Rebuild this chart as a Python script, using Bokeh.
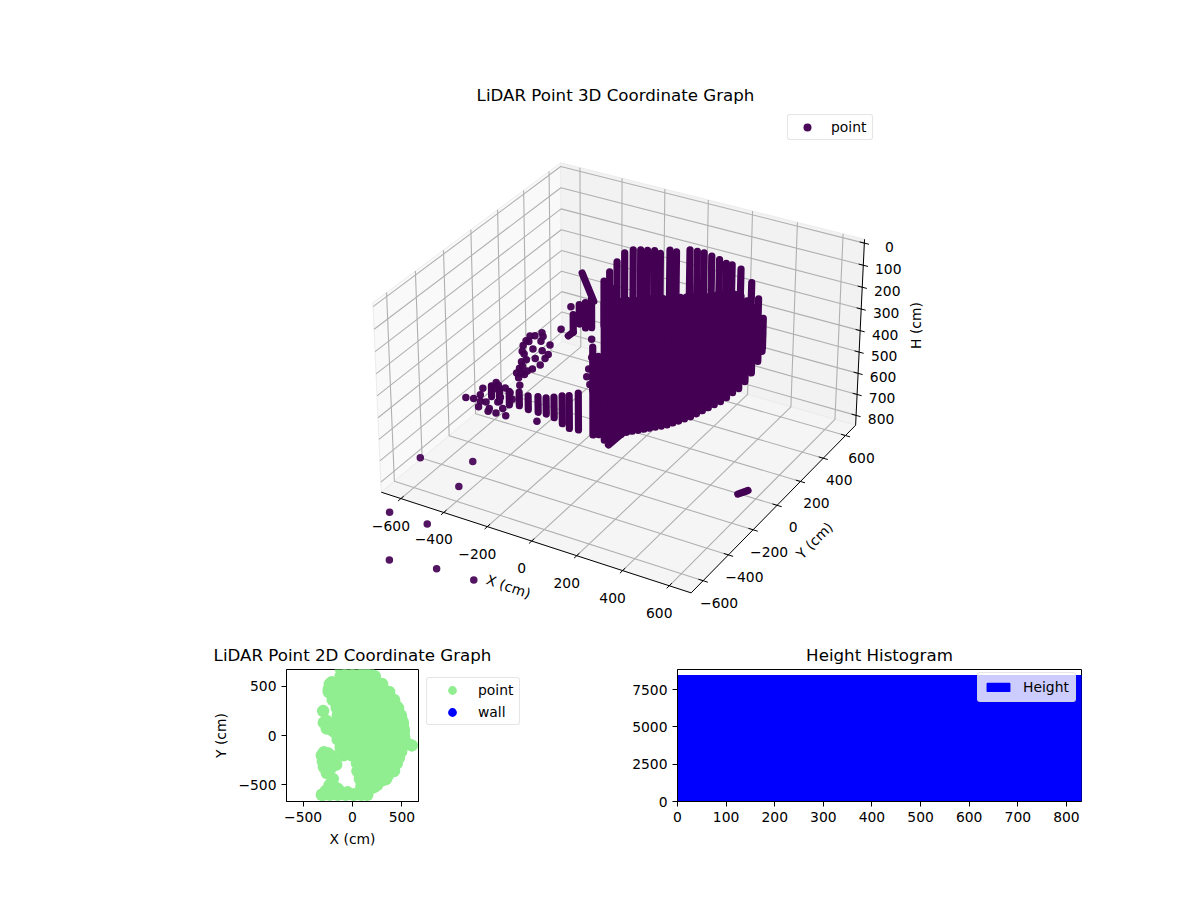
import numpy as np
from bokeh.plotting import figure
from bokeh.layouts import column, row
from bokeh.models import Range1d, Label, Legend, LegendItem, FixedTicker
from bokeh.core.properties import value
from bokeh.embed import file_html
from bokeh.resources import INLINE

FONT = "DejaVu Sans"
PURPLE = "#440154"

# ---------- values ----------
tick_xy = [-600, -400, -200, 0, 200, 400, 600]
tick_h = [0, 100, 200, 300, 400, 500, 600, 700, 800]

# scan ribs on the far wall (x, y, first and last height)
far_x = [-327, -312, -289, -262, -231, -202, -176, -146, -122, -81, -51, 13, 49, 85, 125, 168, 206, 240, 295, 369, 426, 474]
far_y = [420, 440, 460, 475, 490, 500, 510, 515, 520, 525, 525, 520, 515, 505, 495, 480, 465, 450, 420, 370, 320, 270]
far_h0 = [319, 281, 238, 195, 180, 177, 177, 173, 182, 158, 158, 130, 125, 117, 117, 115, 115, 105, 95, 113, 146, 197]
far_h1 = [531, 536, 540, 538, 531, 529, 527, 518, 514, 500, 491, 469, 451, 436, 418, 394, 376, 358, 323, 314, 320, 329]

# densely filled scan ribs of the body
body_x = [-193, -167, -140, -114, -88, -62, -36, -10, 17, 43, 69, 95, 122, 148, 174, 200, 226, 253, 279, 305, 331, 357, 384, 410, 436, 462, 488, 515, 541, 558]
body_y = [100] * 30
body_h0 = [434, 470, 217, 164, 133, 186, 174, 165, 156, 148, 139, 130, 122, 113, 104, 96, 87, 79, 70, 61, 52, 44, 35, 27, 18, 18, 32, 54, 103, 155]
body_h1 = [850, 841, 859, 855, 829, 807, 789, 776, 763, 750, 737, 724, 711, 697, 680, 663, 645, 627, 605, 583, 561, 539, 517, 491, 460, 434, 394, 347, 287, 237]

# scan ribs of the low band towards the left
band_x = [-291, -255, -211, -166, -126, -82, -46, -11, 25, 56, 96]
band_y = [-500] * 11
band_h0 = [334, 340, 335, 325, 330, 320, 315, 301, 285, 275, 252]
band_h1 = [383, 394, 397, 387, 392, 391, 388, 394, 410, 422, 416]

# short strokes of closely packed points: start and end
strand_x0 = [-181, 227, 572, -246, -195, -167, -139, -223]
strand_y0 = [0, -500, -100, 0, 0, 0, 0, 0]
strand_h0 = [43, 443, 778, 347, 189, 172, 141, 243]
strand_x1 = [-129, 289, 616, -223, -195, -167, -139, -223]
strand_y1 = [0, -500, -100, 0, 0, 0, 0, 0]
strand_h1 = [156, 369, 747, 323, 278, 288, 279, 323]

# separate points
single_x = [-424, -401, -368, -363, -443, -430, -373, -457, -331, -411, -368, -462, -453, -340, -355, -443, -401, -466, -378, -462, -476, -415, -439, -490, -466, -481, -453,
            -279, -233, -139, -139, -153, -162, -148, -135,
            -738, -700, -654, -602, -589, -667, -667, -677, -640, -625, -583, -560, -593, -546, -631, -570, -579, -546, -523, -476, -514, -397]
single_h = [398, 391, 367, 383, 426, 426, 408, 452, 413, 455, 451, 480, 491, 461, 483, 515, 497, 531, 521, 551, 565, 550, 567, 591, 584, 611, 588,
            326, 210, 332, 416, 474, 512, 544, 566,
            783, 776, 713, 701, 666, 748, 779, 809, 775, 802, 758, 782, 814, 813, 817, 731, 676, 679, 695, 645, 723, 794]
single_y = [0] * len(single_x)

# outliers well outside the axes limits
far_out_x = [-685, -488, -436, -568, -396, -384, -197, -36]
far_out_y = [-424, -343, -527, -819, -815, -1095, -1055, -1048]
far_out_h = [830, 830, 830, 830, 830, 830, 830, 830]

# top view
top_rows_y = [680, 600, 520, 440, 360, 280, 200, 120, 40, -40, -120, -200, -280, -360, -440, -520, -600]
top_rows_x = [
    [-120, -40, 40, 120, 160],
    [-120, -40, 40, 120, 200, 225],
    [-230, -160, -80, 0, 80, 160, 240, 300],
    [-240, -160, -80, 0, 80, 160, 240, 320, 370],
    [-200, -120, -40, 40, 120, 200, 280, 360, 420],
    [-160, -80, 0, 80, 160, 240, 320, 400, 460],
    [-150, -70, 10, 90, 170, 250, 330, 410, 490],
    [-230, -150, -70, 10, 90, 170, 250, 330, 410, 490, 510],
    [-190, -110, -30, 50, 130, 210, 290, 370, 450, 520],
    [-150, -70, 10, 90, 170, 250, 330, 410, 490, 520],
    [-120, -40, 40, 120, 200, 280, 360, 440, 495],
    [-90, -10, 70, 150, 230, 310, 390, 470],
    [45, 120, 200, 280, 360, 430],
    [50, 130, 210, 290, 370, 420],
    [75, 150, 230, 310, 340],
    [90, 170, 220],
    [-300, -230, -150, -70, 10, 90, 150],
]
top_extra_x = [-297, -265, -290, -260, -210, -240, -210, -290, -310, -250, -200, -300, -250, -200, -165, -290, -260, -220, -260, -200, -230, -270, -310, -200, -150, -200, -120, -50, 560, 600]
top_extra_y = [247, 150, 130, 70, 60, 470, 540, -170, -200, -180, -210, -260, -250, -270, -295, -320, -350, -330, -380, -440, -500, -560, -600, -500, -540, -560, -570, -575, -85, -100]
# outer edge of the crescent
top_edge_x = [173, 210, 250, 295, 340, 375, 410, 437, 462, 487, 508, 518, 523, 510, 493, 470, 447, 403, 356, 303, 250, 197, 143, 82, 22]
top_edge_y = [600, 570, 535, 490, 445, 400, 353, 308, 262, 200, 140, 65, -12, -88, -164, -225, -285, -346, -407, -453, -500, -530, -560, -580, -595]
# wall: hidden below the points
wall_x = [100, 200, 300]
wall_y = [0, 100, -100]

# histogram
hist_edges = [0, 100, 200, 300, 400, 500, 600, 700, 800, 831]
hist_counts = [8426, 8426, 8426, 8426, 8426, 8426, 8426, 8426, 8426]

# ---------- camera of the 3D box, fitted to where its edges lie on the page ----------
XL, YL, HMAX = 665.0, 665.0, 830.0
MX, MH = 2 * XL / 48.0, HMAX / 48.0
X0, X1, Y0, Y1 = -XL - MX, XL + MX, -YL - MX, YL + MX
H0, H1 = -MH, HMAX + MH

cal_world = [(X0, Y0, H1), (X1, Y0, H1), (X1, Y1, H1), (X0, Y1, H1), (X1, Y1, H0), (X0, Y1, H0), (X0, Y0, H0)]
cal_page = [(381, 491), (691, 591), (854, 425), (561, 340), (863, 239), (561, 162), (372, 303)]
tick_x_page = [(402, 498), (443, 513), (486, 527), (531, 541), (576, 555), (620, 570), (666, 586)]
tick_y_page = [(704, 579), (730, 554), (754, 529), (777, 505), (801, 481), (823, 458), (845, 436)]
tick_h_page = [(864, 242), (863, 264), (862, 287), (861, 309), (860, 330), (858, 352), (857, 373), (857, 394), (855, 415)]
for t, pg in zip(tick_xy, tick_x_page):
    cal_world.append((t, Y0, H1)); cal_page.append(pg)
for t, pg in zip(tick_xy, tick_y_page):
    cal_world.append((X1, t, H1)); cal_page.append(pg)
for t, pg in zip(tick_h, tick_h_page):
    cal_world.append((X1, Y1, t)); cal_page.append(pg)

rows_ = []
for (wx, wy, wz), (u, v) in zip(cal_world, cal_page):
    wx, wy, wz, u, v = wx / 1000, wy / 1000, wz / 1000, u / 1000, v / 1000
    rows_.append([wx, wy, wz, 1, 0, 0, 0, 0, -u * wx, -u * wy, -u * wz, -u])
    rows_.append([0, 0, 0, 0, wx, wy, wz, 1, -v * wx, -v * wy, -v * wz, -v])
CAM = np.linalg.svd(np.array(rows_))[2][-1].reshape(3, 4)


def project(x, y, h):
    x, y, h = np.asarray(x, float) / 1000, np.asarray(y, float) / 1000, np.asarray(h, float) / 1000
    d = CAM[2, 0] * x + CAM[2, 1] * y + CAM[2, 2] * h + CAM[2, 3]
    a = (CAM[0, 0] * x + CAM[0, 1] * y + CAM[0, 2] * h + CAM[0, 3]) / d
    b = (CAM[1, 0] * x + CAM[1, 1] * y + CAM[1, 2] * h + CAM[1, 3]) / d
    return a * 1000, b * 1000


W3, H3 = 1200, 638
p = figure(width=W3, height=H3, output_backend="svg", toolbar_location=None,
           x_axis_type=None, y_axis_type=None, min_border=0,
           x_range=Range1d(0, W3), y_range=Range1d(H3, 0))
p.grid.visible = False
p.outline_line_color = None
p.background_fill_color = "white"


def pane(xs, ys, hs, color):
    a, b = project(xs, ys, hs)
    p.patch(list(a), list(b), fill_color=color, line_color="#ececec", line_width=1)


pane([X0, X0, X0, X0], [Y0, Y1, Y1, Y0], [H1, H1, H0, H0], "#f9f9f9")
pane([X0, X1, X1, X0], [Y1, Y1, Y1, Y1], [H1, H1, H0, H0], "#f2f2f2")
pane([X0, X1, X1, X0], [Y0, Y0, Y1, Y1], [H1, H1, H1, H1], "#f5f5f5")


def path(xs, ys, hs):
    a, b = project(xs, ys, hs)
    return list(a), list(b)


gx, gy = [], []
for t in tick_xy:
    a, b = path([t, t, t], [Y0, Y1, Y1], [H1, H1, H0])
    gx.append(a); gy.append(b)
    a, b = path([X1, X0, X0], [t, t, t], [H1, H1, H0])
    gx.append(a); gy.append(b)
for t in tick_h:
    a, b = path([X0, X0, X1], [Y0, Y1, Y1], [t, t, t])
    gx.append(a); gy.append(b)
p.multi_line(gx, gy, line_color="#b0b0b0", line_width=1.1)

# axis lines and ticks
a, b = path([X0, X1, X1, X1], [Y0, Y0, Y1, Y1], [H1, H1, H1, H0])
p.line(a, b, line_color="black", line_width=1)
tx, ty = [], []
for t in tick_xy:
    a, b = path([t, t], [Y0 - 20, Y0 + 20], [H1, H1])
    tx.append(a); ty.append(b)
    a, b = path([X1 - 20, X1 + 20], [t, t], [H1, H1])
    tx.append(a); ty.append(b)
for t in tick_h:
    a, b = path([X1 - 20, X1 + 20], [Y1, Y1], [t, t])
    tx.append(a); ty.append(b)
p.multi_line(tx, ty, line_color="black", line_width=1)


def tick_text(ticks, xs, ys, hs, dx, dy):
    a, b = project(xs, ys, hs)
    labels = [str(t).replace("-", "\u2212") for t in ticks]
    p.text(list(a), list(b), text=labels, x_offset=dx, y_offset=dy, text_align="center",
           text_baseline="middle", text_font=value(FONT), text_font_size="13.89px", text_color="black")


n = len(tick_xy)
tick_text(tick_xy, tick_xy, [Y0] * n, [H1] * n, -10, 27)
tick_text(tick_xy, [X1] * n, tick_xy, [H1] * n, 16, 22)
tick_text(tick_h, [X1] * len(tick_h), [Y1] * len(tick_h), tick_h, 25, 4)

# dense scan ribs, drawn as strokes as wide as the dots
rx, ry = [], []
for xs, ys, h0s, h1s in ((far_x, far_y, far_h0, far_h1), (body_x, body_y, body_h0, body_h1), (band_x, band_y, band_h0, band_h1)):
    for xv, yv, h0, h1 in zip(xs, ys, h0s, h1s):
        a, b = path([xv, xv], [yv, yv], [h0, h1])
        rx.append(a); ry.append(b)
for x0, y0, h0, x1, y1, h1 in zip(strand_x0, strand_y0, strand_h0, strand_x1, strand_y1, strand_h1):
    a, b = path([x0, x1], [y0, y1], [h0, h1])
    rx.append(a); ry.append(b)
p.multi_line(rx, ry, line_color=PURPLE, line_width=7.2, line_cap="round")

sa, sb = project(single_x, single_y, single_h)
pts = p.scatter(list(sa), list(sb), size=7.5, fill_color=PURPLE, line_color=None, fill_alpha=0.97)
oa, ob = project(far_out_x, far_out_y, far_out_h)
p.scatter(list(oa), list(ob), size=7.5, fill_color=PURPLE, line_color=None, fill_alpha=0.92)


def slabel(text, x, y, size="13.89px", angle=0.0):
    p.add_layout(Label(x=x, y=H3 - y, x_units="screen", y_units="screen", text=text, angle=angle,
                       text_align="center", text_baseline="middle", text_font=FONT,
                       text_font_size=size, text_color="black"))


slabel("LiDAR Point 3D Coordinate Graph", 615, 95, "16.67px")
slabel("X (cm)", 508, 586, angle=np.radians(-19))
slabel("Y (cm)", 814, 540, angle=np.radians(45))
slabel("H (cm)", 915, 325, angle=np.radians(90))


def style_legend(lg):
    lg.label_text_font = FONT
    lg.label_text_font_size = "13.89px"
    lg.label_text_color = "black"
    lg.border_line_color = "#cccccc"
    lg.border_line_width = 1
    if "border_radius" in Legend.properties():
        lg.border_radius = 3


lg3 = Legend(items=[LegendItem(label="point", renderers=[pts])], location=(787, H3 - 140), padding=2, margin=0, spacing=2,
             glyph_width=34, glyph_height=20, label_standoff=7, label_width=39, label_height=20)
style_legend(lg3)
p.add_layout(lg3, "center")


def style_axes(f):
    for ax_ in (f.xaxis[0], f.yaxis[0]):
        ax_.major_label_text_font = FONT
        ax_.major_label_text_font_size = "13.89px"
        ax_.major_label_text_color = "black"
        ax_.axis_label_text_font = FONT
        ax_.axis_label_text_font_size = "13.89px"
        ax_.axis_label_text_font_style = "normal"
        ax_.axis_label_text_color = "black"
        ax_.major_tick_out = 5
        ax_.major_tick_in = 0
        ax_.minor_tick_out = 0
        ax_.minor_tick_in = 0
        ax_.major_tick_line_color = "black"
        ax_.axis_line_color = "black"
        ax_.major_label_standoff = 5
    f.grid.visible = False
    f.outline_line_color = "black"
    f.outline_line_width = 1
    f.title.text_font = FONT
    f.title.text_font_size = "16.67px"
    f.title.text_font_style = "normal"
    f.title.text_color = "black"
    f.title.align = "center"
    f.title.offset = 0


# ---------- 2D view ----------
top_x = [v for rowv in top_rows_x for v in rowv] + top_extra_x + top_edge_x
top_y = [yv for yv, rowv in zip(top_rows_y, top_rows_x) for _ in rowv] + top_extra_y + top_edge_y

q = figure(width=600, height=260, frame_width=132, frame_height=132, output_backend="svg", toolbar_location=None,
           x_range=Range1d(-668, 668), y_range=Range1d(-668, 668),
           min_border_left=286, min_border_right=182, min_border_top=29, min_border_bottom=97,
           title="LiDAR Point 2D Coordinate Graph", x_axis_label="X (cm)", y_axis_label="Y (cm)")
style_axes(q)
r_wall = q.scatter(wall_x, wall_y, size=8, fill_color="#0000ff", line_color=None)
r_point = q.scatter(top_x, top_y, size=12.5, fill_color="#90ee90", line_color=None)
labels_2d = {-500: "\u2212500", 0: "0", 500: "500"}
for ax_ in (q.xaxis[0], q.yaxis[0]):
    ax_.ticker = FixedTicker(ticks=[-500, 0, 500])
    ax_.major_label_overrides = labels_2d
    ax_.axis_label_standoff = 6
lg2 = Legend(items=[LegendItem(label="point", renderers=[r_point]), LegendItem(label="wall", renderers=[r_wall])],
             location="top_left", margin=8, padding=1, spacing=0, glyph_width=48, glyph_height=22, label_standoff=2,
             label_width=40, label_height=22)
style_legend(lg2)
q.add_layout(lg2, "right")

# ---------- histogram ----------
h = figure(width=600, height=260, frame_width=404, frame_height=132, output_backend="svg", toolbar_location=None,
           x_range=Range1d(0, 831), y_range=Range1d(0, 8847),
           min_border_left=77, min_border_right=119, min_border_top=29, min_border_bottom=97,
           title="Height Histogram", margin=(0, 0, 0, -380))
style_axes(h)
r_hist = h.quad(left=hist_edges[:-1], right=hist_edges[1:], bottom=0, top=hist_counts,
                fill_color="#0000ff", line_color="#0000ff", line_width=1.5)
h.xaxis[0].ticker = FixedTicker(ticks=[0, 100, 200, 300, 400, 500, 600, 700, 800])
h.yaxis[0].ticker = FixedTicker(ticks=[0, 2500, 5000, 7500])
lg4 = Legend(items=[LegendItem(label="Height", renderers=[r_hist])], location=(300, 99), margin=0, padding=6, spacing=2,
             glyph_width=28, glyph_height=10, label_standoff=11, label_height=14, label_width=44,
             background_fill_alpha=0.8)
style_legend(lg4)
h.add_layout(lg4, "center")

layout = column(p, row(q, h))
open("out.html", "w").write(file_html(layout, INLINE))
